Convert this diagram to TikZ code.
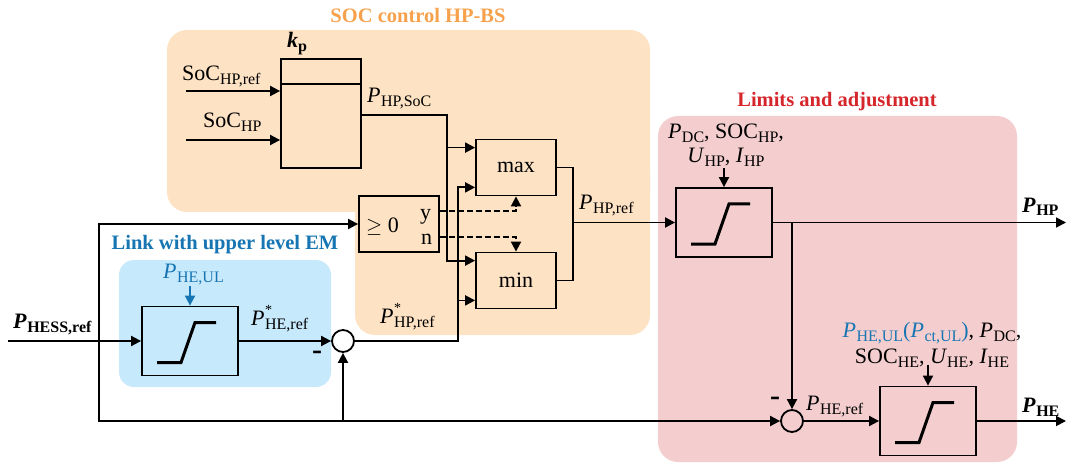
\documentclass[tikz,border=0pt]{standalone}
\usepackage{fontspec}
\setmainfont{Liberation Serif}
\usetikzlibrary{arrows.meta,calc}
\definecolor{orbg}{RGB}{253,226,196}
\definecolor{pkbg}{RGB}{244,206,207}
\definecolor{blbg}{RGB}{199,233,252}
\definecolor{ortx}{RGB}{247,161,77}
\definecolor{rdtx}{RGB}{213,38,44}
\definecolor{bltx}{RGB}{22,117,178}
\newcommand{\sbs}[1]{\raisebox{-4pt}{\fontsize{16}{18}\selectfont #1}}
\newcommand{\ip}{\textit{P}\kern0.5pt}
\newcommand{\pst}[1]{\textit{P}\kern0.5pt\rlap{\raisebox{10.5pt}{\fontsize{14}{14}\selectfont *}}\sbs{#1}}
\tikzset{
  conn/.style={line width=1.8pt},
  arr/.style={line width=1.8pt,-{Triangle[length=10pt,width=10pt]}},
  blk/.style={draw,line width=1.8pt,inner sep=0pt,minimum width=80pt,minimum height=56pt},
  limbox/.style={draw,line width=1.8pt,inner sep=0pt,minimum width=96pt,minimum height=69pt},
  sumc/.style={draw,circle,line width=1.8pt,inner sep=0pt,minimum size=22pt},
  lbl/.style={anchor=base west,inner sep=0pt},
  clbl/.style={anchor=base,inner sep=0pt},
  ttl/.style={inner sep=0pt,font=\fontsize{20.5}{24}\selectfont\bfseries},
  minus/.style={inner sep=0pt,font=\fontsize{30}{30}\selectfont\bfseries},
  lim/.pic={\draw[line width=3pt,line join=miter] (-33,21.5) -- (-9,21.5) -- (5,-18.5) -- (26,-18.5);}
}
\begin{document}
\begin{tikzpicture}[x=1pt,y=-1pt,font=\fontsize{22}{26}\selectfont]
\useasboundingbox (0,0) rectangle (1068,465);
% backgrounds
\fill[orbg,rounded corners=20pt] (167,30) rectangle (650,212);
\fill[orbg,rounded corners=20pt] (355,150) rectangle (650,335);
\fill[pkbg,rounded corners=20pt] (658,116) rectangle (1017,462);
\fill[blbg,rounded corners=15pt] (119,260) rectangle (331,387);
% titles
\node[ttl,text=ortx] (t1) at (418,15) {SOC control HP-BS};
\node[ttl,text=rdtx] (t2) at (837,102) {Limits and adjustment};
\node[ttl,text=bltx] (t3) at (225,245) {Link with upper level EM};
% blocks
\node[draw,line width=1.8pt,inner sep=0pt,minimum width=80pt,minimum height=109pt] (kp) at (321,113.5) {};
\draw[conn] ($(kp.north west)+(0,26)$) -- ($(kp.north east)+(0,26)$);
\node[blk] (max) at (516,167.5) {max};
\node[blk] (min) at (516,280.5) {min};
\node[blk] (cmp) at (399,224) {};
\node[limbox] (limHP) at (724,222.5) {};
\node[limbox] (limUL) at (190,341) {};
\node[limbox] (limHE) at (928,421) {};
\pic at (limHP.center) {lim};
\pic at (limUL.center) {lim};
\pic at (limHE.center) {lim};
\node[sumc] (sum1) at (343,341) {};
\node[sumc] (sum2) at (792,421) {};
% helper coordinates
\coordinate (socref) at (186,91);
\coordinate (sochp) at (186,140);
\coordinate (kpo) at ($(kp.north east)+(0,57)$);
\coordinate (mxi1) at ($(max.north west)+(0,9)$);
\coordinate (mxi2) at ($(max.south west)+(0,-9)$);
\coordinate (mni1) at ($(min.north west)+(0,9)$);
\coordinate (mni2) at ($(min.south west)+(0,-9)$);
\coordinate (xa) at (447,0);
\coordinate (xb) at (458,0);
\coordinate (xc) at (573,0);
\coordinate (xd) at (792,0);
\coordinate (xe) at (99,0);
\coordinate (inHESS) at (8,341);
\coordinate (outHP) at (1066,222.5);
\coordinate (outHE) at (1066,421);
\coordinate (ulin) at ($(limUL.north)+(0,-20)$);
\coordinate (hpin) at ($(limHP.north)+(0,-19)$);
\coordinate (hein) at ($(limHE.north)+(0,-21)$);
% connectors
\draw[arr] (socref) -- (socref -| kp.west);
\draw[arr] (sochp) -- (sochp -| kp.west);
\draw[arr] (kpo) -| (xa |- mni1) -- (mni1);
\draw[arr] (xa |- mxi1) -- (mxi1);
\draw[arr] (sum1.east) -| (xb |- mxi2) -- (mxi2);
\draw[arr] (xb |- mni2) -- (mni2);
\draw[arr,dash pattern=on 6pt off 3pt] ($(cmp.east)+(0,-13)$) -| (max.south);
\draw[arr,dash pattern=on 6pt off 3pt] ($(cmp.east)+(0,13)$) -| (min.north);
\draw[conn] (max.east) -| (xc |- limHP.west) |- (min.east);
\draw[arr] (xc |- limHP.west) -- (limHP.west);
\draw[arr] (limHP.east) -- (outHP);
\draw[arr] (xd |- limHP.east) -- (sum2.north);
\draw[arr] (sum2.east) -- (limHE.west);
\draw[arr] (limHE.east) -- (outHE);
\draw[arr] (inHESS) -- (limUL.west);
\draw[arr] (xe |- inHESS) -- (xe |- cmp.west) -- (cmp.west);
\draw[arr] (xe |- inHESS) |- (sum2.west);
\draw[arr] (sum1.south |- sum2.west) -- (sum1.south);
\draw[arr] (limUL.east) -- (sum1.west);
\draw[arr,bltx] (ulin) -- (limUL.north);
\draw[arr] (hpin) -- (limHP.north);
\draw[arr] (hein) -- (limHE.north);
% labels
\node[lbl] (tkp) at (287,48) {\textbf{\textit{k}\sbs{p}}};
\node[lbl] (tSocRef) at (182,81) {SoC\sbs{HP,ref}};
\node[lbl] (tSocHP) at (203,128) {SoC\sbs{HP}};
\node[lbl] (tPsoc) at (367,103) {\ip\sbs{HP,SoC}};
\node[lbl] (tPref) at (579,210) {\ip\sbs{HP,ref}};
\node[lbl] (tPstHP) at (380,323) {\pst{HP,ref}};
\node[lbl] (tPstHE) at (251,325) {\pst{HE,ref}};
\node[lbl,text=bltx] (tPul) at (163,278) {\ip\sbs{HE,UL}};
\node[lbl] (tHESS) at (13,328) {\textbf{\ip\sbs{HESS,ref}}};
\node[minus] (tm1) at (317,355) {-};
\node[minus] (tm2) at (775,401) {-};
\node[lbl] (tgeq) at (366,233) {$\geq$ 0};
\node[lbl] (ty) at (420,219) {y};
\node[lbl] (tn) at (421,244) {n};
\node[clbl] (thp1) at (726,139) {\ip\sbs{DC}, SOC\sbs{HP},};
\node[clbl] (thp2) at (726,163) {\textit{U}\sbs{HP}, \textit{I}\sbs{HP}};
\node[clbl] (the1) at (932,337) {\textcolor{bltx}{\ip\sbs{HE,UL}(\ip\sbs{ct,UL})}, \ip\sbs{DC},};
\node[clbl] (the2) at (932,363) {SOC\sbs{HE}, \textit{U}\sbs{HE}, \textit{I}\sbs{HE}};
\node[lbl] (tPHEref) at (806,410) {\ip\sbs{HE,ref}};
\node[lbl] (tPHP) at (1022,212) {\textbf{\ip\sbs{HP}}};
\node[lbl] (tPHE) at (1022,412) {\textbf{\ip\sbs{HE}}};
\end{tikzpicture}
\end{document}
